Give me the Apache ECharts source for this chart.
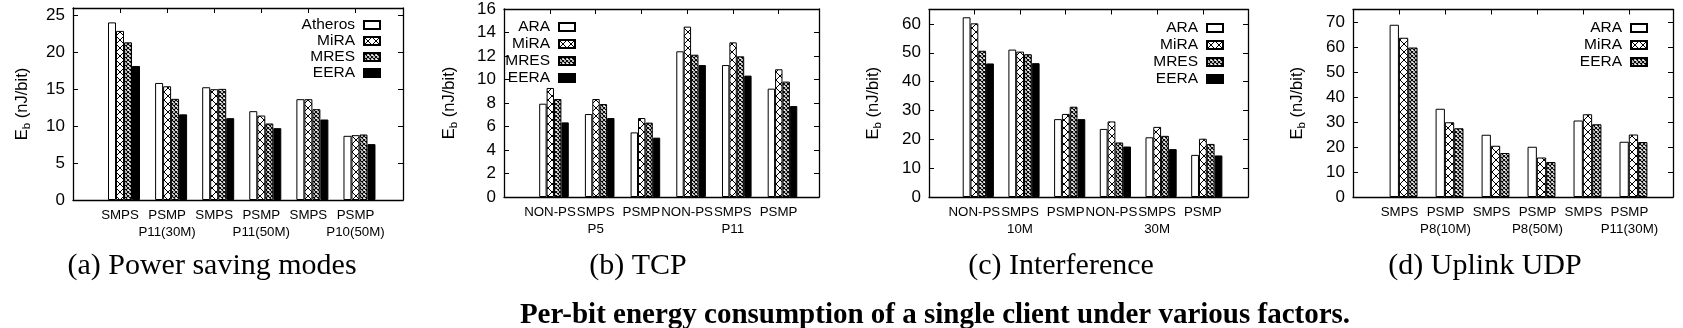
<!DOCTYPE html>
<html>
<head>
<meta charset="utf-8">
<script src="https://cdn.jsdelivr.net/npm/echarts@6/dist/echarts.min.js"></script>
<style>
  html, body { margin: 0; padding: 0; background: #fff; }
  #wrap { position: relative; width: 1683px; height: 328px; }
  .pane { position: absolute; left: 0; top: 0; width: 1683px; height: 328px; }
</style>
</head>
<body>
<div id="wrap">
  <div class="pane" id="pa"></div>
  <div class="pane" id="pb"></div>
  <div class="pane" id="pc"></div>
  <div class="pane" id="pd"></div>
</div>
<script>
// ---- data ----
const modesA = ['SMPS', 'PSMP', 'SMPS', 'PSMP', 'SMPS', 'PSMP'];
const groupsA = ['', 'P11(30M)', '', 'P11(50M)', '', 'P10(50M)'];
const atherosA = [24.05, 15.85, 15.27, 12.03, 13.65, 8.69];
const miraA = [22.9, 15.4, 15.0, 11.44, 13.65, 8.78];
const mresA = [21.35, 13.7, 15.05, 10.36, 12.3, 8.87];
const eeraA = [18.15, 11.6, 11.08, 9.73, 10.9, 7.57];
const yTicksA = [0, 5, 10, 15, 20, 25];

const modesB = ['NON-PS', 'SMPS', 'PSMP', 'NON-PS', 'SMPS', 'PSMP'];
const groupsB = ['', 'P5', '', '', 'P11', ''];
const araB = [7.94, 7.06, 5.5, 12.4, 11.23, 9.22];
const miraB = [9.28, 8.34, 6.72, 14.5, 13.16, 10.87];
const mresB = [8.34, 7.91, 6.33, 12.11, 11.97, 9.82];
const eeraB = [6.35, 6.72, 5.05, 11.23, 10.33, 7.74];
const yTicksB = [0, 2, 4, 6, 8, 10, 12, 14, 16];

const modesC = ['NON-PS', 'SMPS', 'PSMP', 'NON-PS', 'SMPS', 'PSMP'];
const groupsC = ['', '10M', '', '', '30M', ''];
const araC = [62.3, 51.1, 27.0, 23.6, 20.7, 14.6];
const miraC = [60.2, 50.4, 28.8, 26.2, 24.3, 20.2];
const mresC = [50.7, 49.5, 31.3, 18.9, 21.2, 18.4];
const eeraC = [46.3, 46.4, 27.0, 17.5, 16.6, 14.4];
const yTicksC = [0, 10, 20, 30, 40, 50, 60];

const modesD = ['SMPS', 'PSMP', 'SMPS', 'PSMP', 'SMPS', 'PSMP'];
const groupsD = ['', 'P8(10M)', '', 'P8(50M)', '', 'P11(30M)'];
const araD = [68.9, 35.3, 24.9, 20.1, 30.6, 22.1];
const miraD = [63.7, 29.9, 20.5, 15.8, 33.1, 25.0];
const eeraD = [59.8, 27.5, 17.6, 14.0, 29.1, 22.0];
const yTicksD = [0, 10, 20, 30, 40, 50, 60, 70];

const captions = ['(a) Power saving modes', '(b) TCP', '(c) Interference', '(d) Uplink UDP'];
const figureCaption = 'Per-bit energy consumption of a single client under various factors.';

// ---- fill patterns (gnuplot style) ----
function makePattern(size, lw) {
  const c = document.createElement('canvas');
  c.width = size; c.height = size;
  const g = c.getContext('2d');
  g.fillStyle = '#fff';
  g.fillRect(0, 0, size, size);
  g.strokeStyle = '#000';
  g.lineWidth = lw;
  g.beginPath();
  g.moveTo(0, 0); g.lineTo(size, size);
  g.moveTo(size, 0); g.lineTo(0, size);
  g.stroke();
  return { image: c, repeat: 'repeat' };
}
const FILL_EMPTY = '#ffffff';
const FILL_CROSS = makePattern(8, 1);
const FILL_DENSE = makePattern(4, 1.1);
const FILL_SOLID = '#000000';

const W = 1683;
const SANS = 'Liberation Sans';
const SERIF = 'Liberation Serif';

function buildPanel(cfg) {
  const shift = -4 / cfg.step;               // tick sits a little left of the bar cluster
  const xTicks = cfg.modes.map((_, i) => i + shift);
  const groupTicks = xTicks.filter((_, i) => cfg.groups[i]);
  const idx = v => Math.round(v - shift);

  const frame = { show: true, onZero: false, lineStyle: { color: '#000', width: 1.3 } };
  const xLabelFont = { fontFamily: SANS, fontSize: 13.3, color: '#000' };
  const baseX = {
    type: 'value', min: cfg.xMin, max: cfg.xMax,
    splitLine: { show: false },
    axisLine: frame,
    axisTick: { show: true, inside: true, length: 5, customValues: xTicks, lineStyle: { color: '#000' } }
  };
  const baseY = {
    type: 'value', min: 0, max: cfg.yMax,
    splitLine: { show: false },
    axisLine: frame,
    axisTick: { show: true, inside: true, length: 5, customValues: cfg.yTicks, lineStyle: { color: '#000' } }
  };

  const titles = [{
    text: cfg.caption, left: cfg.capX, top: 246, textAlign: 'center',
    textStyle: { fontFamily: SERIF, fontSize: 30, fontWeight: 'normal', color: '#000' }
  }];
  if (cfg.withFigureCaption) {
    titles.push({
      text: figureCaption, left: 930, top: 296, textAlign: 'center',
      textStyle: { fontFamily: SERIF, fontSize: 29, fontWeight: 'bold', color: '#000' }
    });
  }

  return {
    animation: false,
    title: titles,
    legend: {
      orient: 'vertical', right: W - cfg.legRight, top: cfg.legTop,
      align: 'right', icon: 'rect', itemWidth: 16, itemHeight: 8, itemGap: cfg.legGap,
      selectedMode: false,
      textStyle: { fontFamily: SANS, fontSize: 15.5, color: '#000', padding: [0, 4, 0, 0] },
      data: cfg.series.map(s => s.name)
    },
    grid: { left: cfg.box[0], top: cfg.box[1], width: cfg.box[2] - cfg.box[0], height: cfg.box[3] - cfg.box[1] },
    xAxis: [
      // bottom frame: mode names under each cluster
      Object.assign({}, baseX, {
        position: 'bottom',
        axisLabel: Object.assign({
          customValues: xTicks, margin: 9, hideOverlap: false,
          formatter: v => cfg.modes[idx(v)]
        }, xLabelFont)
      }),
      // top frame
      Object.assign({}, baseX, { position: 'top', axisLabel: { show: false } }),
      // second label row: configuration names
      {
        type: 'value', min: cfg.xMin, max: cfg.xMax, position: 'bottom',
        splitLine: { show: false }, axisLine: { show: false }, axisTick: { show: false },
        axisLabel: Object.assign({
          customValues: groupTicks, margin: 26, hideOverlap: false,
          formatter: v => cfg.groups[idx(v)]
        }, xLabelFont)
      }
    ],
    yAxis: [
      Object.assign({}, baseY, {
        position: 'left',
        name: 'E{s|b} (nJ/bit)', nameLocation: 'middle', nameGap: cfg.nameGap, nameRotate: 90,
        nameTextStyle: {
          fontFamily: SANS, fontSize: 16.5, color: '#000', lineHeight: 22,
          rich: { s: { fontFamily: SANS, fontSize: 11.5, color: '#000', verticalAlign: 'bottom', lineHeight: 22 } }
        },
        axisLabel: { customValues: cfg.yTicks, margin: 8, fontFamily: SANS, fontSize: 17, color: '#000' }
      }),
      Object.assign({}, baseY, { position: 'right', axisLabel: { show: false } })
    ],
    series: cfg.series.map(s => ({
      type: 'bar', name: s.name, xAxisIndex: 0, yAxisIndex: 0,
      barWidth: cfg.barW, barGap: '0%',
      itemStyle: { color: s.fill, borderColor: '#000', borderWidth: 1 },
      data: s.values.map((v, i) => [i, v])
    }))
  };
}

const panels = [
  {
    el: 'pa', caption: captions[0], capX: 207,
    box: [73, 8, 403, 200], step: 47.1, xMin: -1.083, xMax: 5.924, yMax: 26, yTicks: yTicksA,
    barW: 8, nameGap: 40, legRight: 386, legTop: 12, legGap: 0,
    modes: modesA, groups: groupsA,
    series: [
      { name: 'Atheros', values: atherosA, fill: FILL_EMPTY },
      { name: 'MiRA', values: miraA, fill: FILL_CROSS },
      { name: 'MRES', values: mresA, fill: FILL_DENSE },
      { name: 'EERA', values: eeraA, fill: FILL_SOLID }
    ]
  },
  {
    el: 'pb', caption: captions[1], capX: 633, withFigureCaption: true,
    box: [504, 9, 819, 197], step: 45.7, xMin: -1.094, xMax: 5.799, yMax: 16, yTicks: yTicksB,
    barW: 7.4, nameGap: 44, legRight: 581, legTop: 14, legGap: 1,
    modes: modesB, groups: groupsB,
    series: [
      { name: 'ARA', values: araB, fill: FILL_EMPTY },
      { name: 'MiRA', values: miraB, fill: FILL_CROSS },
      { name: 'MRES', values: mresB, fill: FILL_DENSE },
      { name: 'EERA', values: eeraB, fill: FILL_SOLID }
    ]
  },
  {
    el: 'pc', caption: captions[2], capX: 1056,
    box: [929, 9.5, 1248, 197], step: 45.7, xMin: -1.079, xMax: 5.902, yMax: 65, yTicks: yTicksC,
    barW: 7.8, nameGap: 45, legRight: 1229, legTop: 15, legGap: 1,
    modes: modesC, groups: groupsC,
    series: [
      { name: 'ARA', values: araC, fill: FILL_EMPTY },
      { name: 'MiRA', values: miraC, fill: FILL_CROSS },
      { name: 'MRES', values: mresC, fill: FILL_DENSE },
      { name: 'EERA', values: eeraC, fill: FILL_SOLID }
    ]
  },
  {
    el: 'pd', caption: captions[3], capX: 1480,
    box: [1353, 9.5, 1673, 197], step: 45.7, xMin: -1.1, xMax: 5.86, yMax: 75, yTicks: yTicksD,
    barW: 9.3, nameGap: 45, legRight: 1653, legTop: 15, legGap: 1,
    modes: modesD, groups: groupsD,
    series: [
      { name: 'ARA', values: araD, fill: FILL_EMPTY },
      { name: 'MiRA', values: miraD, fill: FILL_CROSS },
      { name: 'EERA', values: eeraD, fill: FILL_DENSE }
    ]
  }
];

panels.forEach(cfg => {
  const chart = echarts.init(document.getElementById(cfg.el), null, { renderer: 'canvas' });
  chart.setOption(buildPanel(cfg));
});
</script>
</body>
</html>
